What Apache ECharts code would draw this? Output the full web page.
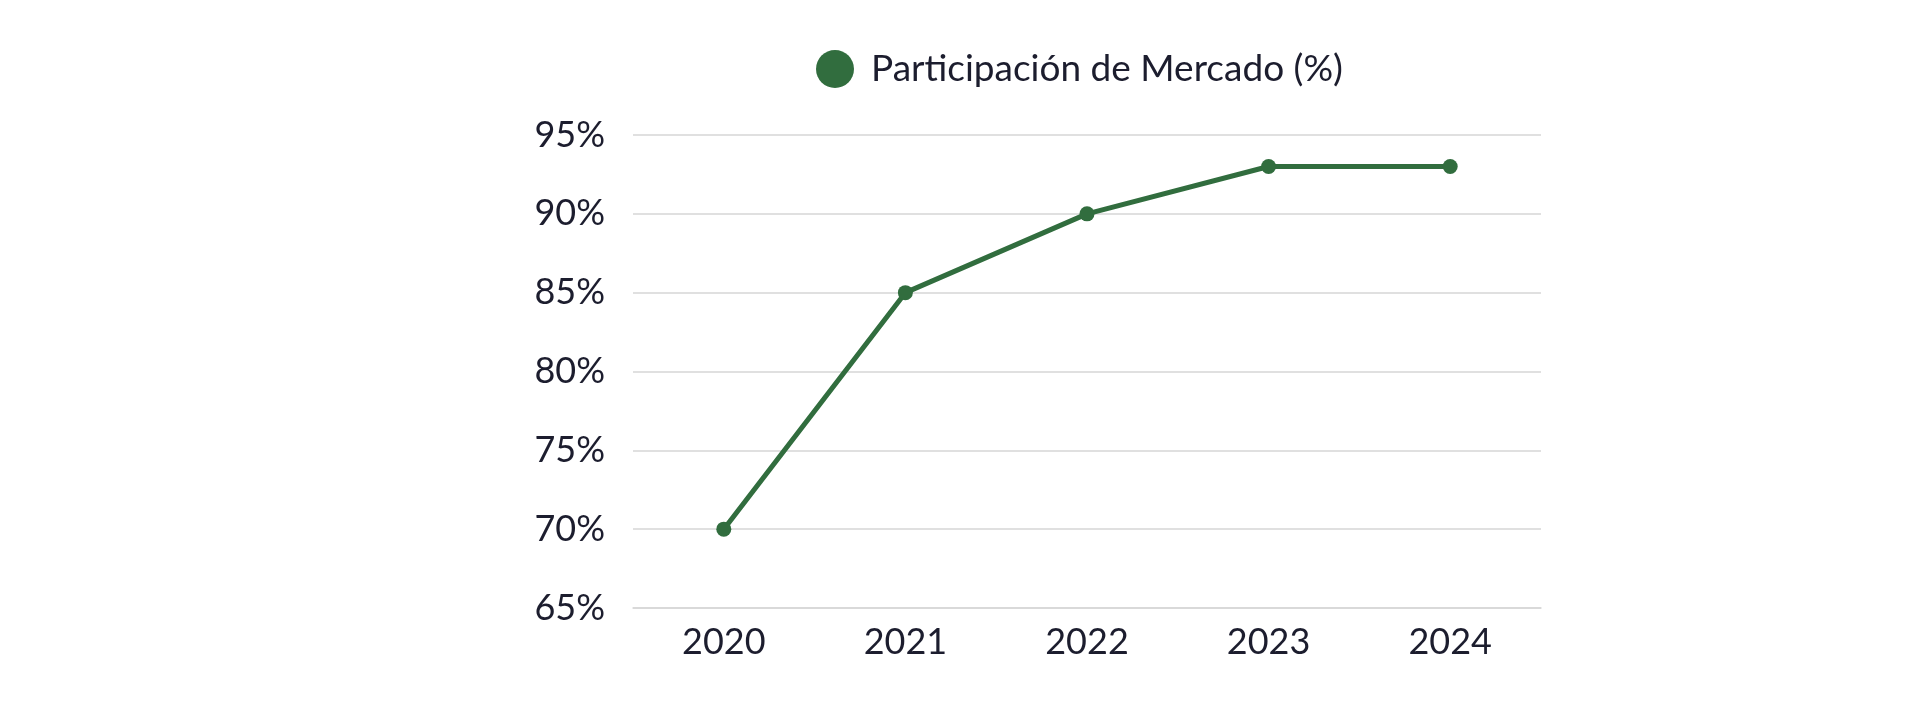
<!DOCTYPE html>
<html>
<head>
<meta charset="utf-8">
<script src="https://cdn.jsdelivr.net/npm/echarts@6/dist/echarts.min.js"></script>
<style>
html,body{margin:0;padding:0;background:#fff;}
#chart{width:1920px;height:727px;}
</style>
</head>
<body>
<div id="chart"></div>
<script>
const seriesName = 'Participación de Mercado (%)';
const categories = ['2020', '2021', '2022', '2023', '2024'];
const values = [70, 85, 90, 93, 93];
const yTicks = [65, 70, 75, 80, 85, 90, 95];

const textColor = '#1c1d2e';
const green = '#316d3e';
const font = 'Lato';

const chart = echarts.init(document.getElementById('chart'));
chart.setOption({
  animation: false,
  textStyle: { fontFamily: font },
  legend: {
    data: [seriesName],
    top: 45,
    left: 811,
    itemWidth: 38,
    itemHeight: 38,
    icon: 'circle',
    textStyle: { fontSize: 37, color: textColor, fontFamily: font, padding: [0, 0, 0, 12] }
  },
  grid: { left: 633, right: 379, top: 135, bottom: 119, containLabel: false },
  xAxis: {
    type: 'category',
    data: categories,
    boundaryGap: true,
    axisLine: { show: true, lineStyle: { color: '#d6d6d6', width: 1.5 } },
    axisTick: { show: false },
    axisLabel: { fontSize: 36, color: textColor, margin: 16, fontFamily: font }
  },
  yAxis: {
    type: 'value',
    min: yTicks[0],
    max: yTicks[yTicks.length - 1],
    interval: 5,
    axisLine: { show: false },
    axisTick: { show: false },
    splitLine: { lineStyle: { color: '#d6d6d6', width: 1.5 } },
    axisLabel: { fontSize: 36, color: textColor, margin: 28, fontFamily: font, formatter: v => v + '%' }
  },
  series: [{
    name: seriesName,
    type: 'line',
    data: values,
    symbol: 'circle',
    symbolSize: 15,
    itemStyle: { color: green },
    lineStyle: { color: green, width: 5 }
  }]
});
</script>
</body>
</html>
